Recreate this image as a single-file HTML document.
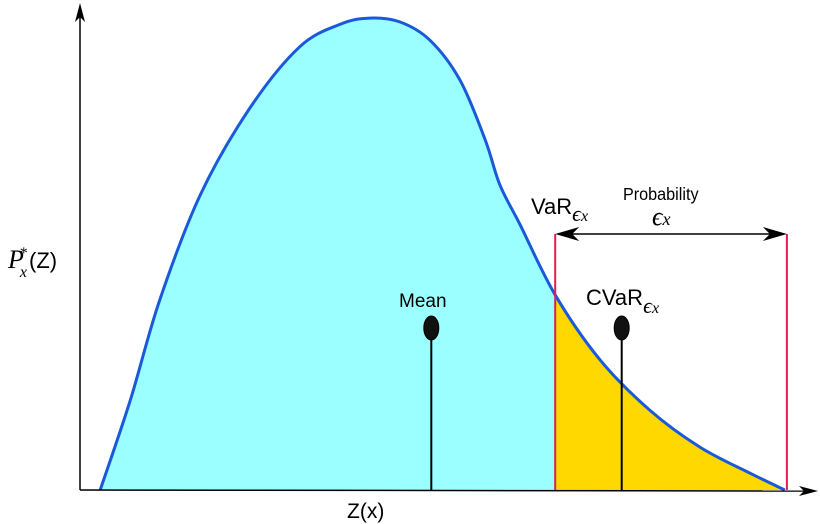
<!DOCTYPE html>
<html><head><meta charset="utf-8"><style>
body{margin:0;background:#fff}
svg{display:block;font-family:"Liberation Sans","DejaVu Sans",sans-serif}
</style></head><body>
<svg id="c" width="820" height="524" viewBox="0 0 820 524">
<defs>
<clipPath id="left"><rect id="clipL" x="0" y="0" width="0" height="524"/></clipPath>
<clipPath id="right"><rect id="clipR" x="0" y="0" width="0" height="524"/></clipPath>
</defs>
<g id="fills"></g>
<g id="marks"></g>
<g>
<line x1="80" y1="490" x2="80" y2="14" stroke="#000" stroke-width="1.5"/>
<polygon points="80,3 75,22 80,17 85,22" fill="#000"/>
<line x1="80" y1="490" x2="806" y2="491" stroke="#000" stroke-width="1.5"/>
<polygon points="818,491 799,486 804,491 799,496" fill="#000"/>
</g>
<text x="8" y="268" font-size="26" font-family="Liberation Serif,serif" font-style="italic">P<tspan font-size="16" dy="9" dx="-4">x</tspan><tspan font-size="16" dy="-19" dx="-8">*</tspan><tspan font-family="Liberation Sans,sans-serif" font-style="normal" font-size="22" dy="10" dx="2">(Z)</tspan></text>
<text x="347" y="518" font-size="21">Z(x)</text>
<text x="399" y="307" font-size="19">Mean</text>
<text x="586" y="305" font-size="22">CVaR<tspan font-family="Liberation Serif,serif" font-style="italic" font-size="22" dy="8">ϵ<tspan font-size="16">x</tspan></tspan></text>
<text x="531" y="214" font-size="22">VaR<tspan font-family="Liberation Serif,serif" font-style="italic" font-size="22" dy="7">ϵ<tspan font-size="16">x</tspan></tspan></text>
<text x="623" y="200" font-size="18" transform="translate(623 0) scale(0.9 1) translate(-623 0)">Probability</text>
<text x="652" y="225" font-size="26" font-family="Liberation Serif,serif" font-style="italic">ϵ<tspan font-size="18">x</tspan></text>
</svg>
<script>
const curveZ=[2.6,6.9,11.1,16.9,24,31.1,36.9,41.1,45.4,49.7,54,57.6,59.7,62.6,67.6,74,81.1,88.3,95.4,100.4];
const curveP=[0,19.1,40.4,62.8,81.3,94.3,99.1,100.4,99.6,95.7,87.2,74.5,64.9,56.4,41.5,27.7,17,9.1,3.6,0];
const varZ=[67.6];
const endZ=[100.7];
const meanZ=[49.9];
const cvarZ=[77.1];
const xS=v=>82+v*7, yS=p=>490-p*4.7;
const NS='http://www.w3.org/2000/svg';
const pts=curveZ.map((z,i)=>[xS(z),yS(curveP[i])]);
let d='M'+pts[0].join(',');
for(let i=0;i<pts.length-1;i++){const p0=pts[Math.max(0,i-1)],p1=pts[i],p2=pts[i+1],p3=pts[Math.min(pts.length-1,i+2)];
d+=` C${p1[0]+(p2[0]-p0[0])/6},${p1[1]+(p2[1]-p0[1])/6} ${p2[0]-(p3[0]-p1[0])/6},${p2[1]-(p3[1]-p1[1])/6} ${p2[0]},${p2[1]}`;}
const vx=xS(varZ[0]), ex=xS(endZ[0]);
document.getElementById('clipL').setAttribute('width',vx);
const cr=document.getElementById('clipR');cr.setAttribute('x',vx);cr.setAttribute('width',820-vx);
const fills=document.getElementById('fills'), marks=document.getElementById('marks');
function mk(tag,attrs,parent){const e=document.createElementNS(NS,tag);for(const k in attrs)e.setAttribute(k,attrs[k]);parent.appendChild(e);return e;}
const fd=d+` L${pts[pts.length-1][0]},490 L${pts[0][0]},490 Z`;
const a=mk('path',{d:fd,fill:'#9cffff','clip-path':'url(#left)'},fills);


const b=mk('path',{d:fd,fill:'#ffd800','clip-path':'url(#right)'},fills);


const c=mk('path',{d:d,fill:'none',stroke:'#1a5ad8','stroke-width':3},marks);


[[vx,'var-line'],[ex,'tail-end-line']].forEach(([x,n])=>{const l=mk('line',{x1:x,x2:x,y1:234,y2:490,stroke:'#e0204a','stroke-width':2},marks);

});
const ar=mk('g',{},marks);


mk('line',{x1:vx+10,x2:ex-10,y1:234,y2:234,stroke:'#000','stroke-width':1.5},ar);
mk('polygon',{points:`${vx},234 ${vx+24},227 ${vx+17},234 ${vx+24},241`},ar);
mk('polygon',{points:`${ex},234 ${ex-24},227 ${ex-17},234 ${ex-24},241`},ar);
[[meanZ[0],'mean-marker'],[cvarZ[0],'cvar-marker']].forEach(([z,n])=>{const g=mk('g',{},marks);


const x=xS(z);mk('line',{x1:x,x2:x,y1:330,y2:490,stroke:'#000','stroke-width':2},g);
mk('ellipse',{cx:x,cy:328,rx:7.5,ry:12,fill:'#111',stroke:'#000'},g);});
</script>
</body></html>
